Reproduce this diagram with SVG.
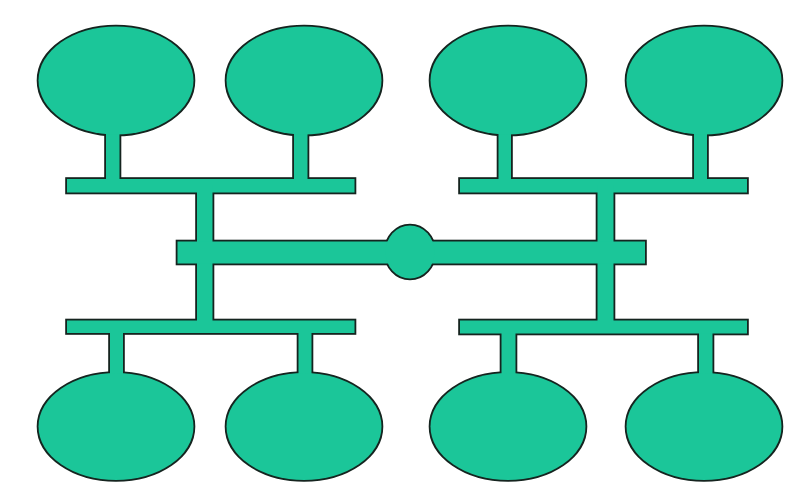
<svg xmlns="http://www.w3.org/2000/svg" xmlns:xlink="http://www.w3.org/1999/xlink" width="800" height="497" viewBox="0 0 800 497">
<style>
.outline { fill:#15241f; stroke:#15241f; stroke-width:3.6; stroke-linejoin:miter; }
.fill { fill:#1bc699; stroke:none; }
</style>
<defs>
  <g id="shape-n1"><ellipse cx="116" cy="80.5" rx="77.5" ry="54"/></g>
  <g id="shape-n2"><ellipse cx="304" cy="80.5" rx="77.5" ry="54"/></g>
  <g id="shape-n3"><ellipse cx="508" cy="80.5" rx="77.5" ry="54"/></g>
  <g id="shape-n4"><ellipse cx="704" cy="80.5" rx="77.5" ry="54"/></g>
  <g id="shape-n5"><ellipse cx="116" cy="426.5" rx="77.5" ry="53.5"/></g>
  <g id="shape-n6"><ellipse cx="304" cy="426.5" rx="77.5" ry="53.5"/></g>
  <g id="shape-n7"><ellipse cx="508" cy="426.5" rx="77.5" ry="53.5"/></g>
  <g id="shape-n8"><ellipse cx="704" cy="426.5" rx="77.5" ry="53.5"/></g>
  <g id="shape-hub"><ellipse cx="410" cy="252" rx="24.5" ry="26.5"/></g>
  <g id="shape-connectors">
    <!-- top stems -->
    <rect x="106" y="125" width="13.5" height="60"/>
    <rect x="294" y="125" width="13.5" height="60"/>
    <rect x="498.5" y="125" width="12.5" height="60"/>
    <rect x="694" y="125" width="13" height="60"/>
    <!-- bottom stems -->
    <rect x="110" y="325" width="13" height="60"/>
    <rect x="298.5" y="325" width="13" height="60"/>
    <rect x="501.5" y="325" width="14" height="60"/>
    <rect x="699" y="325" width="13.5" height="60"/>
    <!-- branch bars -->
    <rect x="67" y="179" width="287.5" height="13.5"/>
    <rect x="460" y="179" width="287" height="13.5"/>
    <rect x="67" y="320.5" width="287.5" height="12.5"/>
    <rect x="460" y="320.5" width="287" height="13"/>
    <!-- trunks -->
    <rect x="197" y="185" width="15.5" height="140"/>
    <rect x="597.5" y="185" width="16" height="140"/>
    <!-- center bar -->
    <rect x="177.5" y="241.5" width="467.5" height="22"/>
  </g>
</defs>

<g class="outline">
  <use xlink:href="#shape-connectors"/>
  <use xlink:href="#shape-n1"/><use xlink:href="#shape-n2"/><use xlink:href="#shape-n3"/><use xlink:href="#shape-n4"/>
  <use xlink:href="#shape-n5"/><use xlink:href="#shape-n6"/><use xlink:href="#shape-n7"/><use xlink:href="#shape-n8"/>
  <use xlink:href="#shape-hub"/>
</g>

<g id="connectors" class="fill"><use xlink:href="#shape-connectors"/></g>
<g id="node-1" class="fill"><use xlink:href="#shape-n1"/></g>
<g id="node-2" class="fill"><use xlink:href="#shape-n2"/></g>
<g id="node-3" class="fill"><use xlink:href="#shape-n3"/></g>
<g id="node-4" class="fill"><use xlink:href="#shape-n4"/></g>
<g id="node-5" class="fill"><use xlink:href="#shape-n5"/></g>
<g id="node-6" class="fill"><use xlink:href="#shape-n6"/></g>
<g id="node-7" class="fill"><use xlink:href="#shape-n7"/></g>
<g id="node-8" class="fill"><use xlink:href="#shape-n8"/></g>
<g id="hub" class="fill"><use xlink:href="#shape-hub"/></g>
</svg>
